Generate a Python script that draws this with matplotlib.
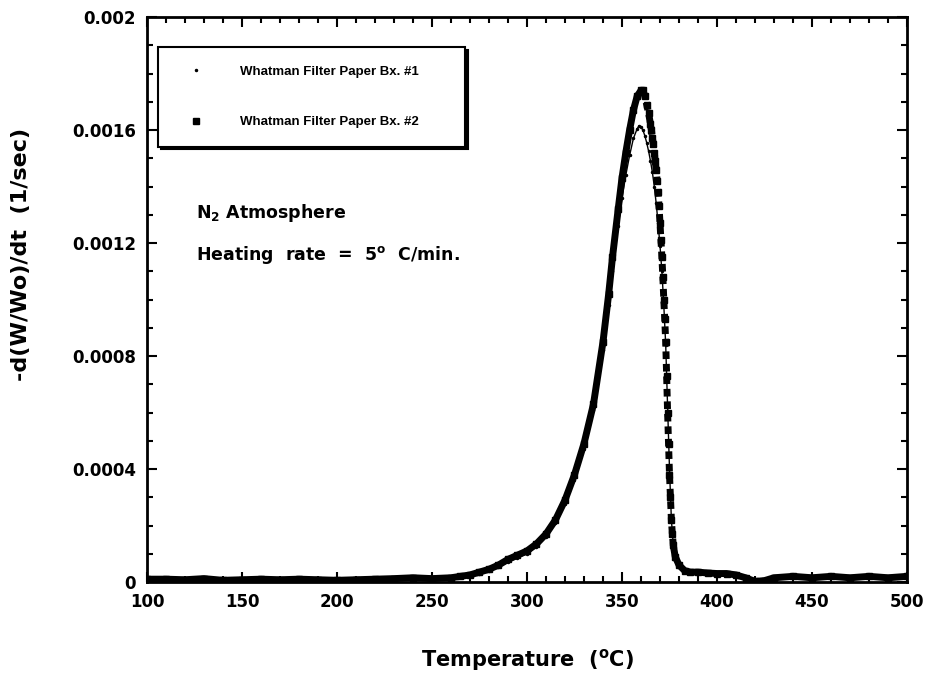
import numpy as np
import matplotlib.pyplot as plt
from matplotlib.ticker import MultipleLocator, FuncFormatter

plt.rcParams['font.family'] = ['DejaVu Sans']
plt.rcParams['font.weight'] = 'bold'
plt.rcParams['mathtext.default'] = 'regular'

# Whatman Filter Paper Bx. #2 (squares)
temp2 = [100, 110, 120, 130, 140, 150, 160, 170, 180, 190, 200, 210, 220, 230,
         240, 250, 260, 265, 270, 275, 280, 285, 290, 295, 300, 305, 310, 315,
         320, 325, 330, 335, 340, 343, 345, 348, 350, 352, 354, 356, 358, 360,
         361, 362, 363, 364, 365, 365.5, 366, 366.5, 367, 367.5, 368, 368.5,
         369, 369.5, 370, 370.5, 371, 371.5, 372, 372.5, 373, 373.5, 374,
         374.5, 375, 375.5, 376, 376.5, 377, 378, 380, 383, 386, 390, 395, 400,
         405, 410, 415, 420, 425, 430, 440, 450, 460, 470, 480, 490, 500]
dwdt2 = [1.0, 1.0, 0.8, 1.2, 0.6, 0.8, 1.0, 0.8, 1.0, 0.8, 0.6, 0.8, 1.0, 1.2,
         1.5, 1.2, 1.5, 2.0, 2.5, 3.5, 4.5, 6.0, 8.0, 9.5, 11.0, 13.5, 17.0, 22.0,
         29.0, 38.0, 49.0, 63.0, 85.0, 102.0, 115.0, 132.0, 143.0, 152.0, 160.0,
         167.0, 172.0, 174.0, 174.0, 172.0, 169.0, 166.0, 162.0, 160.0, 157.0,
         155.0, 152.0, 149.0, 146.0, 142.0, 138.0, 133.0, 127.0, 121.0, 115.0,
         108.0, 100.0, 93.0, 85.0, 73.0, 60.0, 49.0, 38.0, 30.0, 22.0, 17.0,
         13.0, 9.0, 6.0, 4.0, 3.5, 3.5, 3.2, 3.0, 3.0, 2.5, 1.5, 0.2, 0.5, 1.5,
         2.0, 1.5, 2.0, 1.5, 2.0, 1.5, 2.0]

# Whatman Filter Paper Bx. #1 (dots)
temp1 = [100, 110, 120, 130, 140, 150, 160, 170, 180, 190, 200, 210, 220, 230,
         240, 250, 260, 265, 270, 275, 280, 285, 290, 295, 300, 305, 310, 315,
         320, 325, 330, 335, 340, 343, 345, 348, 350, 352, 354, 356, 358, 359,
         360, 361, 362, 363, 364, 365, 366, 367, 368, 369, 370, 371, 372, 373,
         374, 375, 376, 377, 378, 380, 383, 386, 390, 395, 400, 405, 410, 415,
         420, 425, 430, 440, 450, 460, 470, 480, 490, 500]
dwdt1 = [0.8, 0.9, 0.7, 1.0, 0.5, 0.7, 0.9, 0.7, 0.9, 0.7, 0.5, 0.7, 0.9, 1.0,
         1.3, 1.0, 1.3, 1.7, 2.2, 3.0, 4.0, 5.2, 7.0, 8.5, 10.0, 12.5, 16.0, 21.0,
         27.5, 36.0, 47.0, 61.0, 82.0, 98.0, 110.0, 126.0, 136.0, 144.0, 151.0,
         157.0, 160.5, 161.5, 161.0, 160.0, 158.0, 155.5, 152.5, 149.0, 145.0,
         140.0, 134.0, 127.0, 119.0, 110.0, 98.0, 84.0, 62.0, 40.0, 22.0, 13.0,
         9.0, 6.0, 4.0, 3.5, 3.5, 3.2, 3.0, 3.0, 2.5, 1.5, 0.2, 0.5, 1.5, 2.0,
         1.5, 2.0, 1.5, 2.0, 1.5, 2.0]

t1 = np.array(temp1)
y1 = np.array(dwdt1) * 1e-5
t2 = np.array(temp2)
y2 = np.array(dwdt2) * 1e-5

fig = plt.figure(figsize=(9.26, 6.8), dpi=100)
ax = fig.add_axes([0.1587, 0.1441, 0.8208, 0.8309])

# dense rising side and tail drawn as a solid band, the steep fall as a dotted band
rise = t2 <= 361
fall = (t2 >= 361) & (t2 <= 377)
tail = t2 >= 377
ax.plot(t2[rise], y2[rise], color='black', lw=5, solid_capstyle='round')
ax.plot(t2[tail], y2[tail], color='black', lw=5, solid_capstyle='round')
ax.plot(t2[fall], y2[fall], color='black', lw=5, linestyle=(0, (1.1, 0.7)))
ax.plot(t2, y2, 's', color='black', ms=4.5, label='Whatman Filter Paper Bx. #2')
ax.plot(t1, y1, '.', color='black', ms=3, label='Whatman Filter Paper Bx. #1')
ax.plot(t1, y1, color='black', lw=1)

ax.set_xlim(100, 500)
ax.set_ylim(0, 0.002)
ax.xaxis.set_major_locator(MultipleLocator(50))
ax.xaxis.set_minor_locator(MultipleLocator(10))
ax.yaxis.set_major_locator(MultipleLocator(0.0004))
ax.yaxis.set_minor_locator(MultipleLocator(0.0001))
ax.yaxis.set_major_formatter(FuncFormatter(lambda v, p: '%g' % round(v, 6)))
ax.tick_params(which='both', direction='in', top=True, right=True, width=1.5)
ax.tick_params(which='major', length=7, labelsize=12, pad=8)
ax.tick_params(which='minor', length=4)
for s in ax.spines.values():
    s.set_linewidth(2)

ax.set_xlabel('Temperature  ($^\\mathregular{o}$C)', fontsize=15, fontweight='bold')
ax.xaxis.set_label_coords(0.5, -0.115)
ax.set_ylabel('-d(W/Wo)/dt  (1/sec)', fontsize=16, fontweight='bold')
ax.yaxis.set_label_coords(-0.152, 0.58)

handles, labels = ax.get_legend_handles_labels()
leg = ax.legend(handles[::-1], labels[::-1], loc='upper left', mode='expand',
                bbox_to_anchor=(0.0145, 0.768, 0.404, 0.179), fancybox=False,
                shadow={'color': 'black', 'alpha': 1.0}, edgecolor='black',
                prop={'family': 'Liberation Sans', 'weight': 'bold', 'size': 9.5},
                handlelength=3, handletextpad=1.8,
                borderpad=1.4, labelspacing=2.9, borderaxespad=0)
leg.get_frame().set_linewidth(1.5)

ax.text(125.8, 0.00129, 'N$_2$ Atmosphere', fontsize=12.5, fontweight='bold')
ax.text(125.8, 0.00114, 'Heating  rate  =  5$^\\mathregular{o}$  C/min.',
        fontsize=12.5, fontweight='bold')

fig.savefig('out.png', dpi=100)
